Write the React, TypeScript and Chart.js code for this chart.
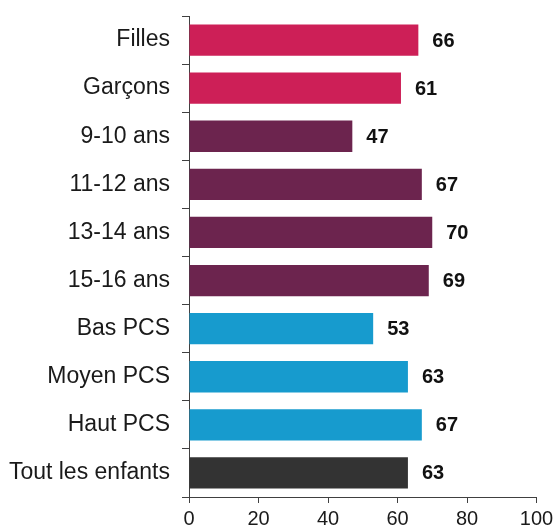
import React, { useEffect, useRef } from "react";
import { Chart, registerables } from "chart.js";

Chart.register(...registerables);

const categories = [
  "Filles",
  "Garçons",
  "9-10 ans",
  "11-12 ans",
  "13-14 ans",
  "15-16 ans",
  "Bas PCS",
  "Moyen PCS",
  "Haut PCS",
  "Tout les enfants",
];
const values = [66, 61, 47, 67, 70, 69, 53, 63, 67, 63];
const groups = ["sexe", "sexe", "age", "age", "age", "age", "pcs", "pcs", "pcs", "total"];
const groupColors: Record<string, string> = {
  sexe: "#CD1F57",
  age: "#6C244E",
  pcs: "#179BCE",
  total: "#333333",
};
const xTicks = [0, 20, 40, 60, 80, 100];

const FONT = "'Liberation Sans', Arial, sans-serif";

const valueLabels = {
  id: "valueLabels",
  afterDatasetsDraw(chart: any) {
    const ctx = chart.ctx;
    const meta = chart.getDatasetMeta(0);
    ctx.save();
    ctx.font = `bold 20px ${FONT}`;
    ctx.fillStyle = "#111111";
    ctx.textAlign = "left";
    ctx.textBaseline = "middle";
    meta.data.forEach((bar: any, i: number) => {
      ctx.fillText(String(values[i]), bar.x + 14, bar.y + 1);
    });
    ctx.restore();
  },
};

export default function App() {
  const ref = useRef<HTMLCanvasElement>(null);
  useEffect(() => {
    if (!ref.current) return;
    const chart = new Chart(ref.current, {
      type: "bar",
      data: {
        labels: categories,
        datasets: [
          {
            data: values,
            backgroundColor: groups.map((g) => groupColors[g]),
            borderWidth: 0,
            categoryPercentage: 1,
            barPercentage: 0.65,
          },
        ],
      },
      options: {
        indexAxis: "y",
        responsive: false,
        animation: false,
        layout: { padding: { top: 16, right: 16.5, left: 0, bottom: 0 } },
        plugins: {
          legend: { display: false },
          tooltip: { enabled: false },
        },
        scales: {
          x: {
            min: 0,
            max: 100,
            afterBuildTicks: (scale: any) => {
              scale.ticks = xTicks.map((v) => ({ value: v }));
            },
            afterFit: (scale: any) => {
              scale.height = 29;
              scale.paddingLeft = 0;
              scale.paddingRight = 0;
            },
            grid: {
              drawOnChartArea: false,
              drawTicks: true,
              tickLength: 6,
              color: "#404040",
            },
            border: { display: true, color: "#404040", width: 1 },
            ticks: {
              color: "#1a1a1a",
              font: { family: FONT, size: 20 },
              padding: 4,
              maxRotation: 0,
            },
          },
          y: {
            afterFit: (scale: any) => {
              scale.width = 189;
              scale.paddingTop = 0;
              scale.paddingBottom = 0;
            },
            grid: {
              offset: true,
              drawOnChartArea: false,
              drawTicks: true,
              tickLength: 7,
              color: "#404040",
            },
            border: { display: true, color: "#404040", width: 1 },
            ticks: {
              color: "#1a1a1a",
              font: { family: FONT, size: 23 },
              padding: 12,
            },
          },
        },
      },
      plugins: [valueLabels],
    });
    return () => chart.destroy();
  }, []);
  return (
    <div style={{ position: "absolute", left: 0, top: 0, width: 553, height: 526, background: "#fff" }}>
      <canvas ref={ref} width={553} height={526} style={{ width: 553, height: 526 }} />
    </div>
  );
}
